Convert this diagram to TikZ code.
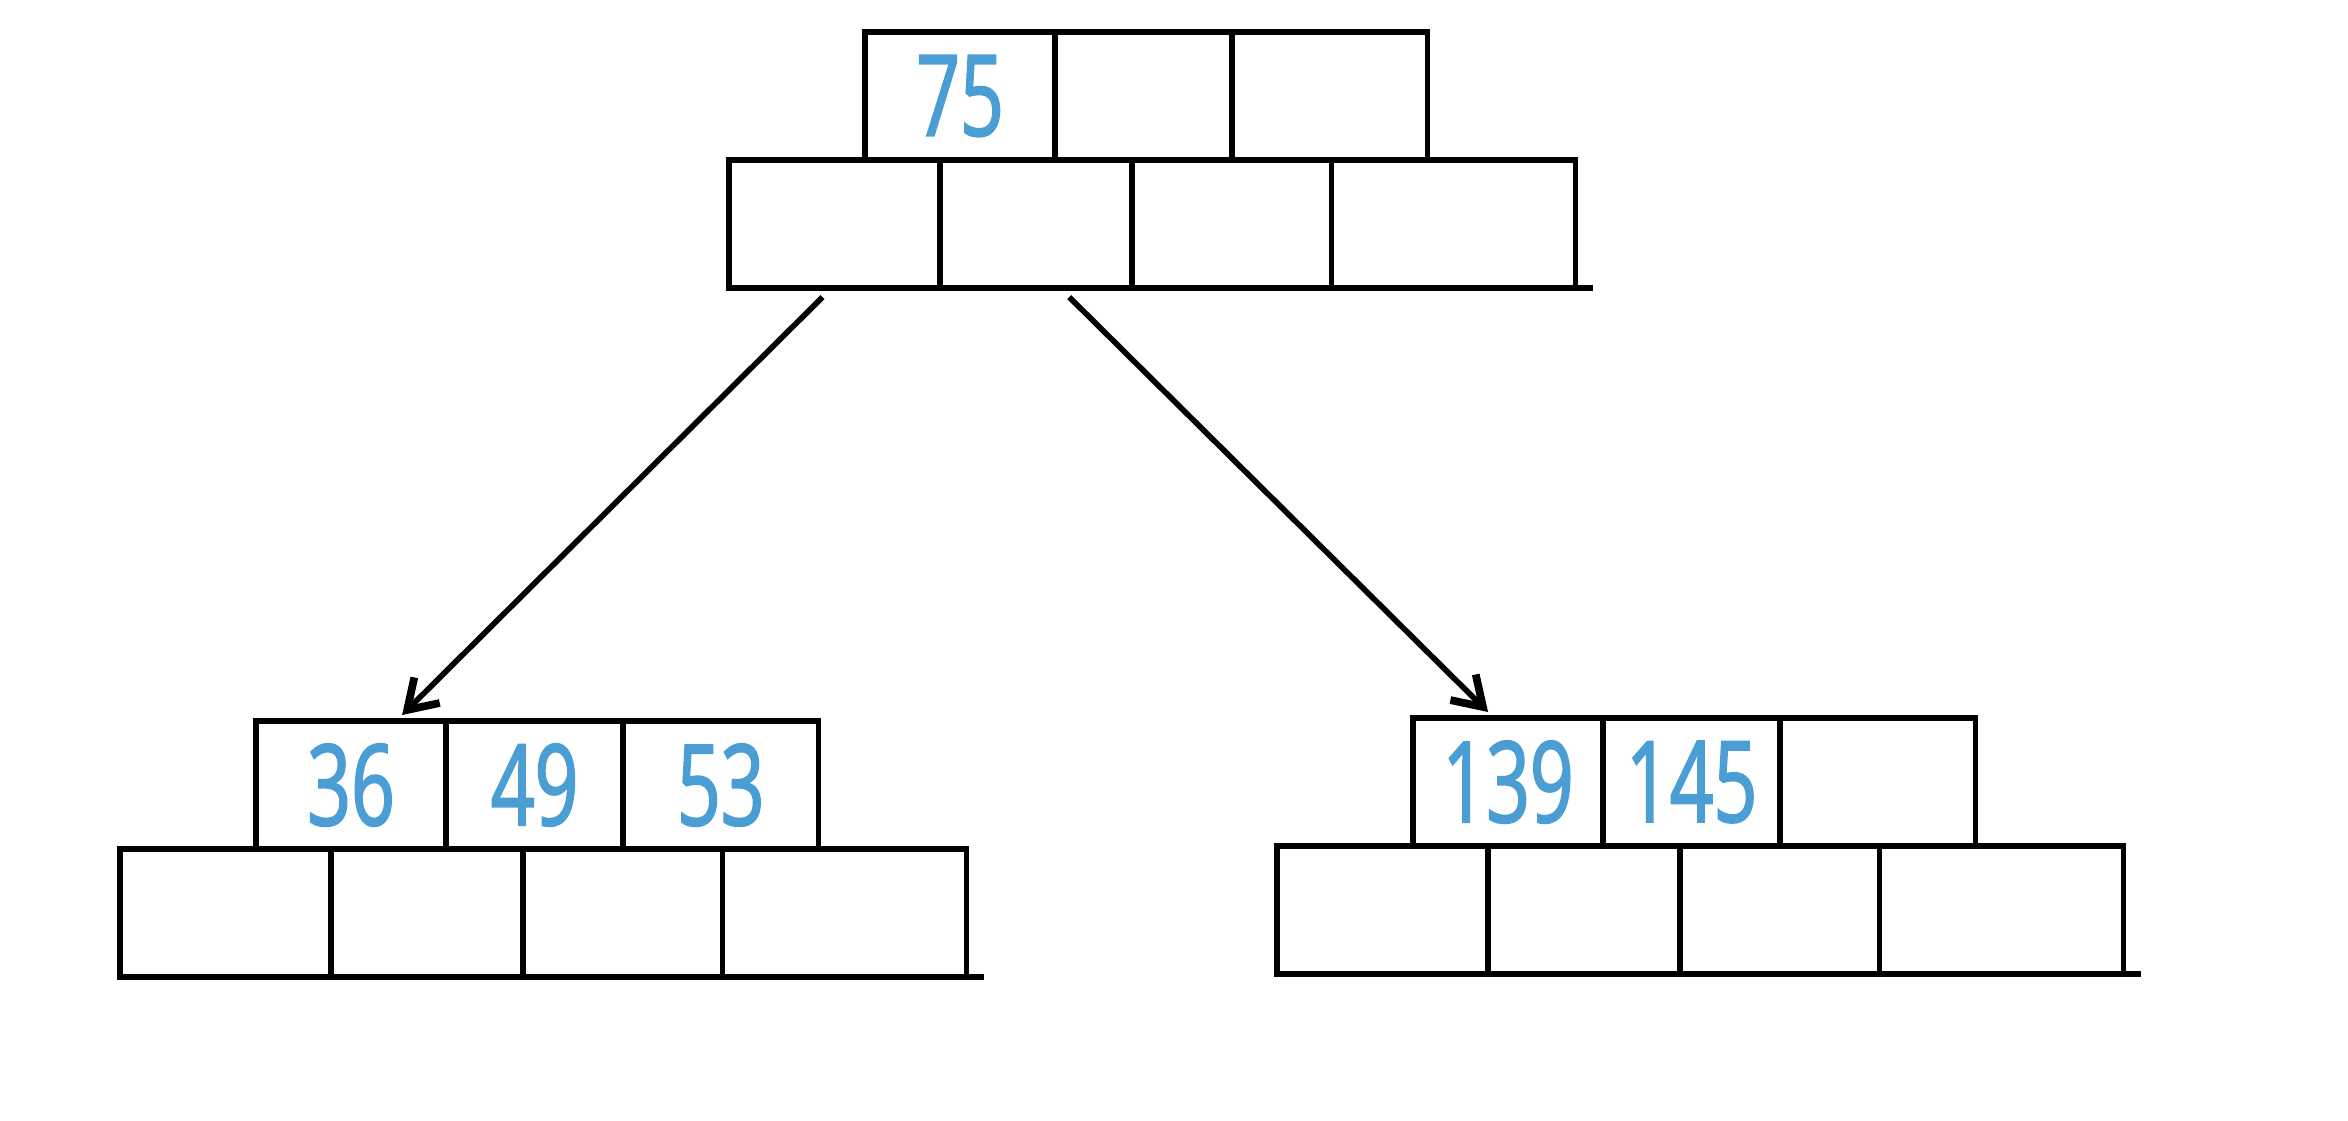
\documentclass[tikz,border=0pt]{standalone}
\usepackage{fontspec}
\newfontfamily\handfont[FakeStretch=0.68,FakeBold=1.6]{Open Sans}
\usetikzlibrary{positioning}
\usetikzlibrary{arrows.meta}
\definecolor{keyblue}{RGB}{74,158,212}
\tikzset{
  cell/.style={draw, rectangle, line width=1.6pt, inner sep=0pt, outer sep=0pt,
    minimum height=1.28cm, anchor=north west},
  key/.style={cell, text=keyblue, font=\handfont\fontsize{32}{32}\selectfont},
  link/.style={-{Straight Barb[length=0.28cm,width=0.36cm,line width=2.2pt]}, line width=1.6pt},
}

\begin{document}
\begin{tikzpicture}[x=0.01cm, y=-0.01cm]
    \useasboundingbox (0,0) rectangle (2348,1120);
    % root
    \node[key, minimum width=1.90cm] (tk1) at (865,32) {75};
    \node[key, minimum width=1.77cm, right=0pt of tk1] (tk2) {};
    \node[key, minimum width=1.95cm, right=0pt of tk2] (tk3) {};
    \node[cell, minimum width=2.11cm] (tp1) at (729,160) {};
    \node[cell, minimum width=1.92cm, right=0pt of tp1] (tp2) {};
    \node[cell, minimum width=1.99cm, right=0pt of tp2] (tp3) {};
    \node[cell, minimum width=2.44cm, right=0pt of tp3] (tp4) {};
    \draw[line width=1.6pt] (tp4.south east) -- ++(17,0);
    % left child
    \node[key, minimum width=1.90cm] (lk1) at (256,721) {36};
    \node[key, minimum width=1.77cm, right=0pt of lk1] (lk2) {49};
    \node[key, minimum width=1.95cm, right=0pt of lk2] (lk3) {53};
    \node[cell, minimum width=2.11cm] (lp1) at (120,849) {};
    \node[cell, minimum width=1.92cm, right=0pt of lp1] (lp2) {};
    \node[cell, minimum width=1.99cm, right=0pt of lp2] (lp3) {};
    \node[cell, minimum width=2.44cm, right=0pt of lp3] (lp4) {};
    \draw[line width=1.6pt] (lp4.south east) -- ++(17,0);
    % right child
    \node[key, minimum width=1.90cm] (rk1) at (1413,718) {139};
    \node[key, minimum width=1.77cm, right=0pt of rk1] (rk2) {145};
    \node[key, minimum width=1.95cm, right=0pt of rk2] (rk3) {};
    \node[cell, minimum width=2.11cm] (rp1) at (1277,846) {};
    \node[cell, minimum width=1.92cm, right=0pt of rp1] (rp2) {};
    \node[cell, minimum width=1.99cm, right=0pt of rp2] (rp3) {};
    \node[cell, minimum width=2.44cm, right=0pt of rp3] (rp4) {};
    \draw[line width=1.6pt] (rp4.south east) -- ++(17,0);
    % pointers
    \draw[link] ([xshift=-0.12cm,yshift=-0.09cm]tp1.south) -- ([xshift=0.51cm,yshift=0.06cm]lk1.north);
    \draw[link] ([xshift=0.33cm,yshift=-0.09cm]tp2.south) -- ([xshift=-0.2cm,yshift=0.06cm]rk1.north);
\end{tikzpicture}
\end{document}
